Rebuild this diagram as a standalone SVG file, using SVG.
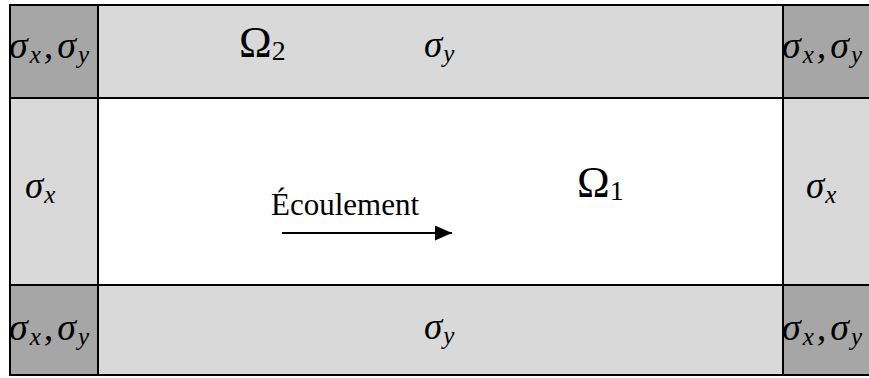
<svg xmlns="http://www.w3.org/2000/svg" width="869" height="378" viewBox="0 0 869 378">
<style>
.light{fill:#d9d9d9;stroke:#000;stroke-width:2}
.dark{fill:#a6a6a6;stroke:#000;stroke-width:2}
.white{fill:#fff;stroke:#000;stroke-width:2}
</style>
<defs>
<marker id="ah" markerWidth="17" markerHeight="15" refX="17" refY="7.5" orient="auto" markerUnits="userSpaceOnUse">
<path d="M0,0 L17,7.5 L0,15 Z" fill="#000"/>
</marker>
</defs>
<g id="top-band"><rect class="light" x="98" y="5" width="685" height="93"/>
<text x="239" y="57" style="font-family:'Liberation Serif',serif;font-size:44px">Ω<tspan dy="3" style="font-size:28px">2</tspan></text>
<text x="424" y="57" style="font-family:'Liberation Serif',serif;font-size:37px;font-style:italic">σ<tspan dx="1" dy="5" style="font-size:25px">y</tspan></text></g>
<g id="bottom-band"><rect class="light" x="98" y="285" width="685" height="90"/>
<text x="424" y="339" style="font-family:'Liberation Serif',serif;font-size:37px;font-style:italic">σ<tspan dx="1" dy="5" style="font-size:25px">y</tspan></text></g>
<g id="left-band"><rect class="light" x="10" y="98" width="88" height="187"/>
<text x="25" y="198" style="font-family:'Liberation Serif',serif;font-size:37px;font-style:italic">σ<tspan dx="1" dy="5" style="font-size:25px">x</tspan></text></g>
<g id="right-band"><rect class="light" x="783" y="98" width="90" height="187"/>
<text x="806" y="198" style="font-family:'Liberation Serif',serif;font-size:37px;font-style:italic">σ<tspan dx="1" dy="5" style="font-size:25px">x</tspan></text></g>
<g id="center"><rect class="white" x="98" y="98" width="685" height="187"/>
<text x="577" y="197" style="font-family:'Liberation Serif',serif;font-size:44px">Ω<tspan dy="3" style="font-size:28px">1</tspan></text>
<text x="271" y="215" style="font-family:'Liberation Serif',serif;font-size:31px">Écoulement</text></g>
<g id="corner-tl"><rect class="dark" x="10" y="5" width="88" height="93"/>
<text x="9" y="58" style="font-family:'Liberation Serif',serif;font-size:38px;font-style:italic">σ<tspan dx="2" dy="5" style="font-size:25px">x</tspan><tspan dx="3" dy="-5">,</tspan><tspan dx="4">σ</tspan><tspan dx="2" dy="5" style="font-size:25px">y</tspan></text></g>
<g id="corner-tr"><rect class="dark" x="783" y="5" width="90" height="93"/>
<text x="782" y="58" style="font-family:'Liberation Serif',serif;font-size:38px;font-style:italic">σ<tspan dx="2" dy="5" style="font-size:25px">x</tspan><tspan dx="3" dy="-5">,</tspan><tspan dx="4">σ</tspan><tspan dx="2" dy="5" style="font-size:25px">y</tspan></text></g>
<g id="corner-bl"><rect class="dark" x="10" y="285" width="88" height="90"/>
<text x="9" y="340" style="font-family:'Liberation Serif',serif;font-size:38px;font-style:italic">σ<tspan dx="2" dy="5" style="font-size:25px">x</tspan><tspan dx="3" dy="-5">,</tspan><tspan dx="4">σ</tspan><tspan dx="2" dy="5" style="font-size:25px">y</tspan></text></g>
<g id="corner-br"><rect class="dark" x="783" y="285" width="90" height="90"/>
<text x="782" y="340" style="font-family:'Liberation Serif',serif;font-size:38px;font-style:italic">σ<tspan dx="2" dy="5" style="font-size:25px">x</tspan><tspan dx="3" dy="-5">,</tspan><tspan dx="4">σ</tspan><tspan dx="2" dy="5" style="font-size:25px">y</tspan></text></g>
<g id="connectors"><line x1="282" y1="233" x2="452" y2="233" stroke="#000" stroke-width="2" marker-end="url(#ah)"/></g>
</svg>
